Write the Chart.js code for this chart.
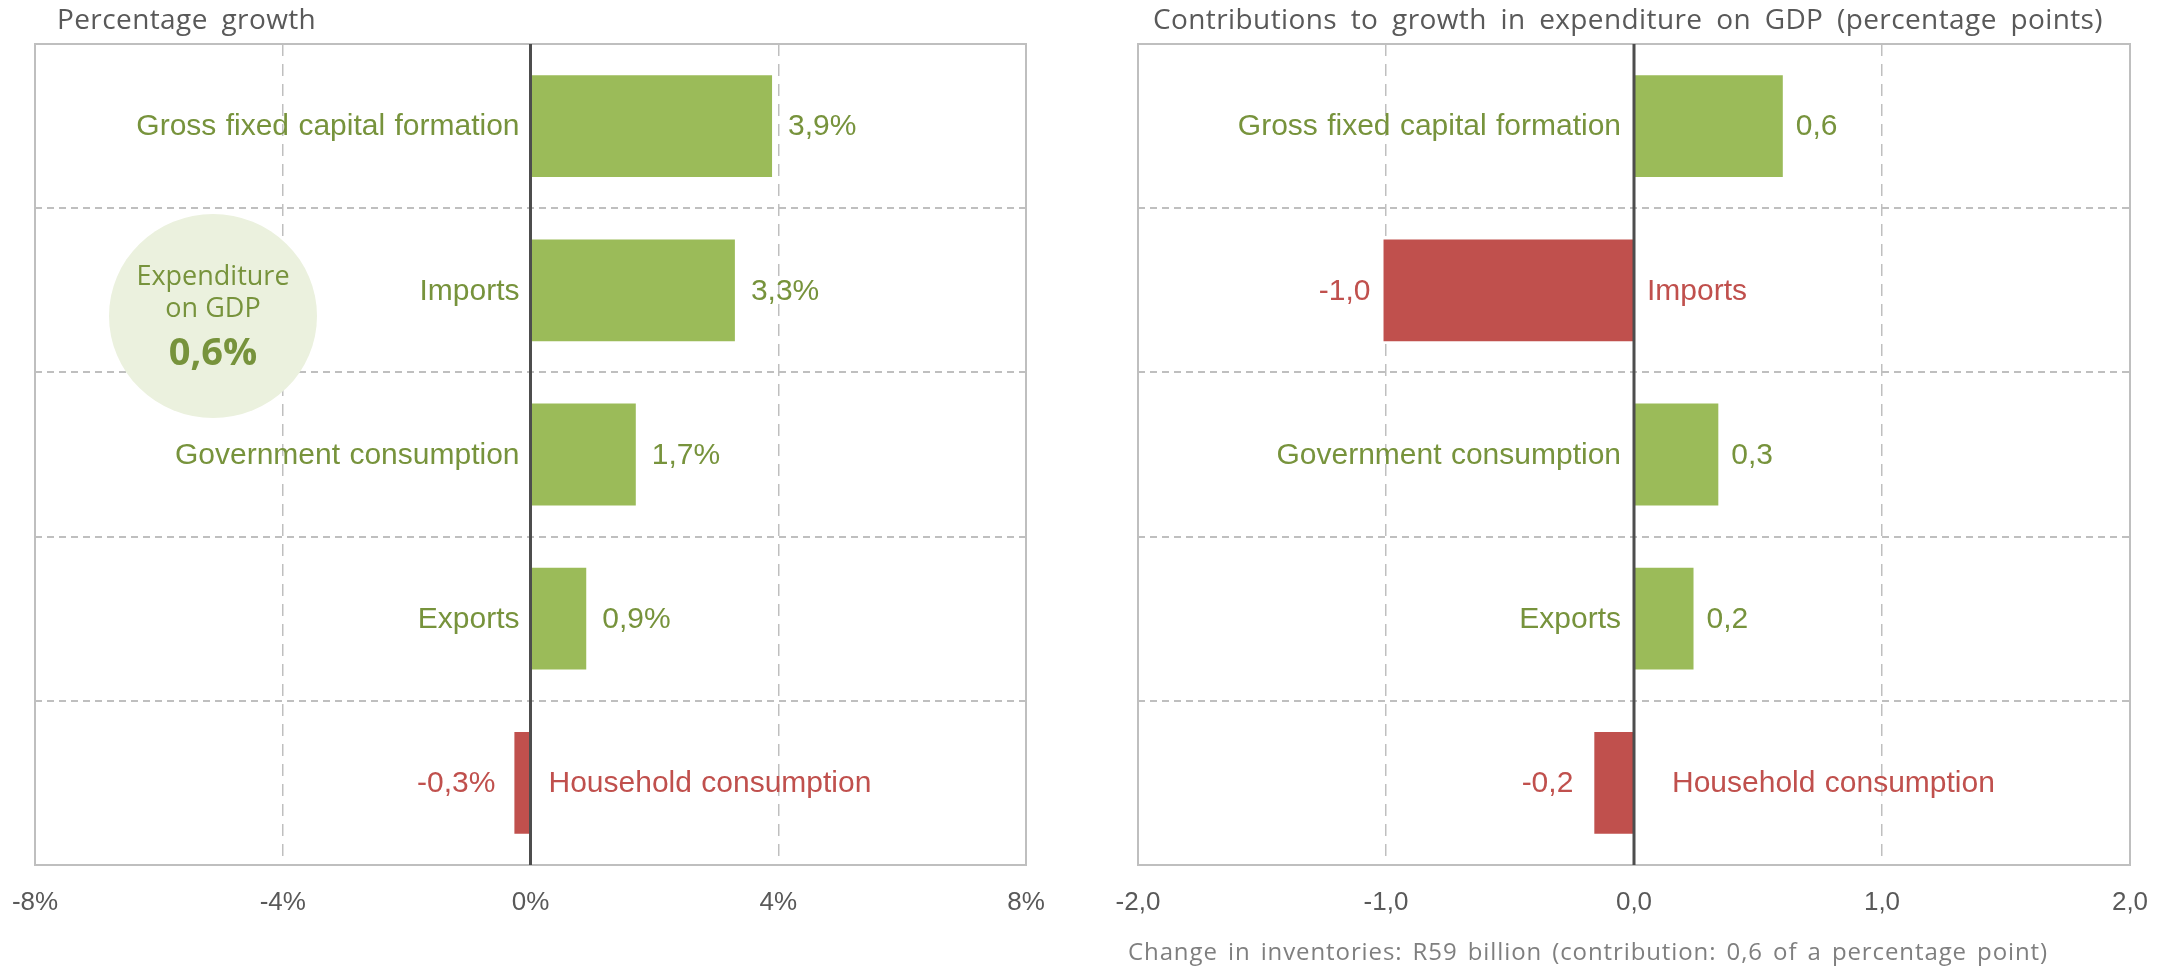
<!DOCTYPE html>
<html>
<head>
<meta charset="utf-8">
<script src="https://cdn.jsdelivr.net/npm/chart.js@4.4.1/dist/chart.umd.min.js"></script>
<style>
html, body { margin: 0; padding: 0; background: #fff; }
body { width: 2172px; height: 968px; position: relative; overflow: hidden; font-family: "Open Sans", sans-serif; }
.panel { position: absolute; top: 0; width: 1086px; height: 968px; }
.title { position: absolute; top: 0; font-size: 28px; line-height: 36px; letter-spacing: 0.4px; word-spacing: 6px;
         color: #595959; white-space: nowrap; }
.note { position: absolute; left: 1128px; top: 935px; font-size: 24px; line-height: 32px; letter-spacing: 0.9px;
        word-spacing: 3px; color: #7f7f7f; white-space: nowrap; }
.bubble { position: absolute; left: 109px; top: 214px; width: 208px; height: 204px; border-radius: 50%;
          background: #EBF1DE; color: #77933C; text-align: center; }
.bubble .l1, .bubble .l2 { position: absolute; left: 0; right: 0; font-size: 27px; line-height: 32px; }
.bubble .l1 { top: 45px; }
.bubble .l2 { top: 77px; }
.bubble .l3 { position: absolute; left: 0; right: 0; top: 113px; font-size: 38px; line-height: 46px; font-weight: bold; }
</style>
</head>
<body>
<div class="panel" style="left:0"><canvas id="growthChart"></canvas></div>
<div class="panel" style="left:1086px"><canvas id="contribChart"></canvas></div>
<div class="title" style="left:57px">Percentage growth</div>
<div class="title" style="left:1153px">Contributions to growth in expenditure on GDP (percentage points)</div>
<div class="bubble"><div class="l1">Expenditure</div><div class="l2">on GDP</div><div class="l3">0,6%</div></div>
<div class="note">Change in inventories: R59 billion (contribution: 0,6 of a percentage point)</div>

<script>
// Chart data
const categories = ['Gross fixed capital formation', 'Imports', 'Government consumption', 'Exports', 'Household consumption'];
const growthValues = [3.9, 3.3, 1.7, 0.9, -0.26];     // percentage growth
const contribValues = [0.6, -1.01, 0.34, 0.24, -0.16]; // percentage points
const growthTicks = ['-8%', '-4%', '0%', '4%', '8%'];
const contribTicks = ['-2,0', '-1,0', '0,0', '1,0', '2,0'];

const GREEN = '#9BBB59';
const RED = '#C0504D';
const GREEN_TEXT = '#77933C';
const GRID = '#BFBFBF';
const LABEL_FONT = '30px "Liberation Sans", Arial, sans-serif';

// draws plot box, zero line and the bar / category labels
const barLabels = {
    id: 'barLabels',
    afterDatasetsDraw(chart, args, opts) {
        const ctx = chart.ctx;
        const area = chart.chartArea;
        const zeroX = chart.scales.x.getPixelForValue(0);
        const values = chart.data.datasets[0].data;
        const meta = chart.getDatasetMeta(0);

        ctx.save();
        // plot box
        ctx.strokeStyle = GRID;
        ctx.lineWidth = 2;
        ctx.strokeRect(area.left, area.top, area.right - area.left, area.bottom - area.top);

        // zero line
        ctx.strokeStyle = '#4D4D4D';
        ctx.lineWidth = 3;
        ctx.beginPath();
        ctx.moveTo(zeroX, area.top);
        ctx.lineTo(zeroX, area.bottom);
        ctx.stroke();

        ctx.font = LABEL_FONT;
        ctx.textBaseline = 'middle';
        if ('wordSpacing' in ctx) ctx.wordSpacing = '1px';

        meta.data.forEach((bar, i) => {
            const v = values[i];
            const pos = v >= 0;
            const y = bar.y + 1;
            ctx.fillStyle = pos ? GREEN_TEXT : RED;
            // category name on the other side of the axis
            ctx.textAlign = pos ? 'right' : 'left';
            ctx.fillText(categories[i], pos ? zeroX - opts.catGap[i] : zeroX + opts.catGap[i], y);
            // value past the bar end
            ctx.textAlign = pos ? 'left' : 'right';
            ctx.fillText(opts.format(v), pos ? bar.x + opts.valGap[i] : bar.x - opts.valGap[i], y);
        });
        ctx.restore();
    }
};

function makeChart(id, values, tickLabels, max, step, format, padding, catGap, valGap) {
    const canvas = document.getElementById(id);
    canvas.width = 1086;
    canvas.height = 968;
    return new Chart(canvas, {
        type: 'bar',
        data: {
            labels: categories,
            datasets: [{
                data: values,
                backgroundColor: values.map(v => v >= 0 ? GREEN : RED),
                borderWidth: 0,
                categoryPercentage: 1,
                barPercentage: 0.62
            }]
        },
        options: {
            indexAxis: 'y',
            responsive: false,
            animation: false,
            events: [],
            layout: { padding: padding },
            plugins: {
                legend: { display: false },
                tooltip: { enabled: false },
                barLabels: { format: format, catGap: catGap, valGap: valGap }
            },
            scales: {
                x: {
                    min: -max,
                    max: max,
                    ticks: {
                        stepSize: step,
                        padding: 22,
                        color: '#595959',
                        font: { family: '"Liberation Sans", Arial, sans-serif', size: 26 },
                        callback: (val, i) => tickLabels[i]
                    },
                    grid: {
                        drawTicks: false,
                        lineWidth: 1.5,
                        color: ctx => (ctx.tick && Math.abs(ctx.tick.value) === step) ? GRID : 'rgba(0,0,0,0)'
                    },
                    border: { display: false, dash: [12, 8] },
                    afterFit: s => { s.height = 60; s.paddingLeft = 0; s.paddingRight = 0; }
                },
                y: {
                    ticks: { display: false },
                    grid: { drawTicks: false, color: GRID, lineWidth: 2, offset: true },
                    border: { display: false, dash: [7, 5] },
                    afterFit: s => { s.width = 0; }
                }
            }
        },
        plugins: [barLabels]
    });
}

makeChart('growthChart', growthValues, growthTicks, 8, 4,
    v => v.toFixed(1).replace('.', ',') + '%',
    { left: 35, right: 60, top: 44, bottom: 43 },
    [11, 11, 11, 11, 18], [16, 16, 16, 16, 19]);

makeChart('contribChart', contribValues, contribTicks, 2, 1,
    v => v.toFixed(1).replace('.', ','),
    { left: 52, right: 42, top: 44, bottom: 43 },
    [13, 13, 13, 13, 38], [13, 13, 13, 13, 21]);
</script>
</body>
</html>
